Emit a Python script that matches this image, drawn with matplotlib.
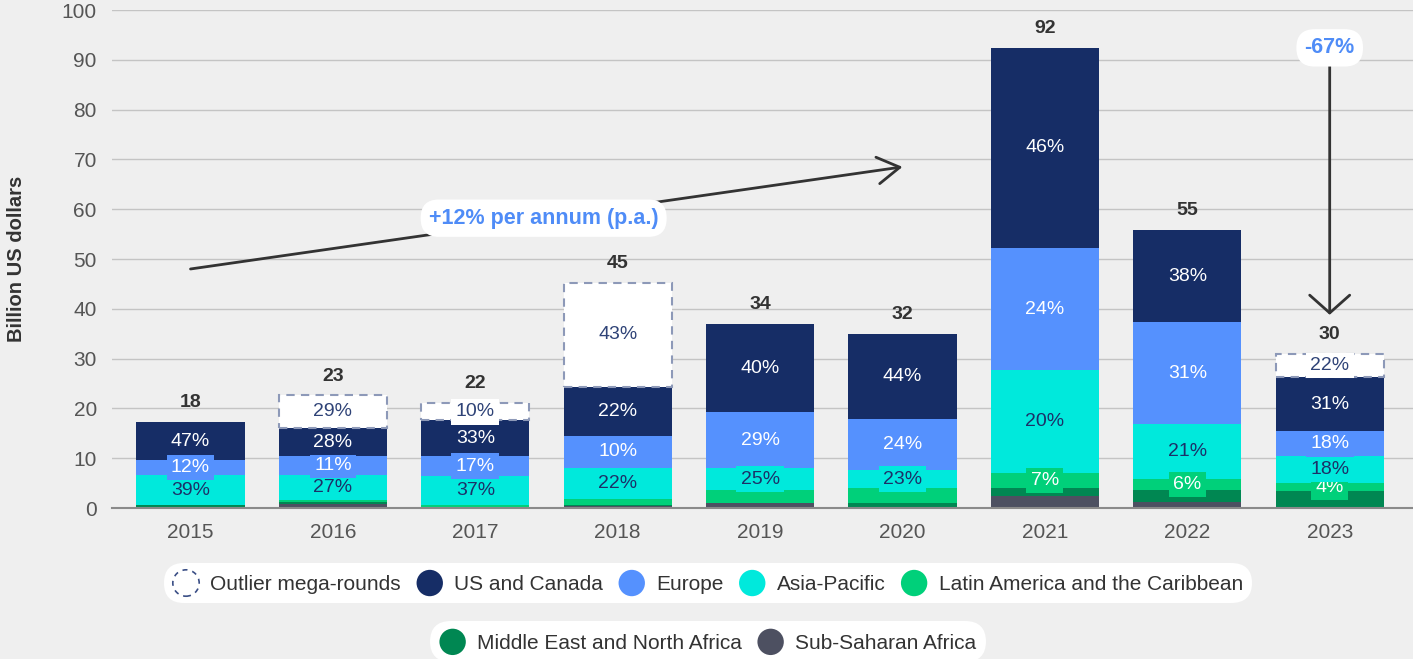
import matplotlib
matplotlib.use('Agg')
import matplotlib.pyplot as plt
import matplotlib.patches as mpatches
from matplotlib.legend_handler import HandlerPatch
import numpy as np

plt.rcParams['font.family'] = ['Liberation Sans', 'DejaVu Sans']

years = ['2015', '2016', '2017', '2018', '2019', '2020', '2021', '2022', '2023']
totals = [18, 23, 22, 45, 34, 32, 92, 55, 30]

# billion US dollars
sub_saharan = [0.0, 0.9, 0.0, 0.4, 1.0, 0.0, 2.5, 1.2, 0.2]
mena = [0.6, 0.4, 0.25, 0.3, 0.0, 1.0, 1.5, 2.4, 3.2]
latam = [0.0, 0.3, 0.35, 1.2, 2.6, 3.0, 3.0, 2.2, 1.6]
asia_pacific = [6.0, 5.0, 5.8, 6.2, 4.4, 3.6, 20.7, 11.0, 5.4]
europe = [3.0, 3.8, 4.0, 6.4, 11.2, 10.2, 24.5, 20.5, 5.0]
us_canada = [7.6, 5.6, 7.2, 9.9, 17.7, 17.1, 40.2, 18.5, 10.9]
outlier = [0.0, 6.6, 3.4, 20.8, 0.0, 0.0, 0.0, 0.0, 4.7]

# share labels shown inside the segments
pct_latam = [None, None, None, None, None, None, 7, 6, 4]
pct_asia = [39, 27, 37, 22, 25, 23, 20, 21, 18]
pct_europe = [12, 11, 17, 10, 29, 24, 24, 31, 18]
pct_us = [47, 28, 33, 22, 40, 44, 46, 38, 31]
pct_outlier = [None, 29, 10, 43, None, None, None, None, 22]

c_navy = '#162d66'
c_blue = '#5591fe'
c_cyan = '#00e9dc'
c_latam = '#00d07a'
c_mena = '#008752'
c_ssa = '#4d5061'
c_dash = '#8d99b8'
bg = '#efefef'

fig = plt.figure(figsize=(14.13, 6.59), dpi=100, facecolor=bg)
ax = fig.add_axes([0.0793, 0.2291, 0.9207, 0.7557])
ax.set_facecolor(bg)

x = np.arange(len(years))
w = 0.76
bottom = np.zeros(len(years))

layers = [
    (sub_saharan, c_ssa, None, None),
    (mena, c_mena, None, None),
    (latam, c_latam, pct_latam, 'white'),
    (asia_pacific, c_cyan, pct_asia, '#1c3068'),
    (europe, c_blue, pct_europe, 'white'),
    (us_canada, c_navy, pct_us, 'white'),
]
for vals, col, pcts, tcol in layers:
    vals = np.array(vals)
    ax.bar(x, vals, w, bottom=bottom, color=col, zorder=2)
    if pcts is not None:
        for i, p in enumerate(pcts):
            if p is None:
                continue
            ax.text(x[i], bottom[i] + vals[i] / 2, f'{p}%', ha='center', va='center',
                    fontsize=14, color=tcol, zorder=4,
                    bbox=dict(boxstyle='square,pad=0.22', fc=col, ec='none'))
    bottom += vals

# outlier mega-rounds: dashed white boxes
out = np.array(outlier)
for i in range(len(years)):
    if out[i] <= 0:
        continue
    ax.bar(x[i], out[i], w, bottom=bottom[i], color='white', edgecolor=c_dash,
           linewidth=1.5, linestyle=(0, (4, 3)), zorder=2)
    ax.text(x[i], bottom[i] + out[i] / 2, f'{pct_outlier[i]}%', ha='center', va='center',
            fontsize=14, color='#2f4377', zorder=4,
            bbox=dict(boxstyle='square,pad=0.22', fc='white', ec='none'))
bottom += out

for i in range(len(years)):
    ax.annotate(str(totals[i]), (x[i], bottom[i]), xytext=(0, 14), textcoords='offset points',
                ha='center', va='center', fontsize=14, fontweight='bold', color='#333333')

ax.set_xlim(-0.551, 8.585)
ax.set_ylim(0, 100)
ax.set_yticks(range(0, 101, 10))
ax.set_xticks(x)
ax.set_xticklabels(years)
ax.tick_params(length=0, labelsize=15, labelcolor='#555555')
ax.tick_params(axis='x', pad=11)
ax.tick_params(axis='y', pad=11)
ax.grid(axis='y', color='#c4c4c4', lw=1)
ax.set_axisbelow(True)
for s in ['top', 'right', 'left']:
    ax.spines[s].set_visible(False)
ax.spines['bottom'].set_color('#8a8a8a')
ax.spines['bottom'].set_linewidth(1.5)
ax.spines['bottom'].set_zorder(3)
ax.set_ylabel('Billion US dollars', fontsize=14.5, fontweight='bold', color='#333333')
ax.yaxis.set_label_coords(-0.066, 0.5)

# growth arrows
ax.annotate('', xy=(5.0, 68.5), xytext=(0.0, 48.0),
            arrowprops=dict(arrowstyle='->,head_length=1.0,head_width=0.6', color='#333333',
                            lw=2, mutation_scale=16, shrinkA=0, shrinkB=0), zorder=5)
ax.text(2.48, 58.2, '+12% per annum (p.a.)', ha='center', va='center', fontsize=15.5,
        fontweight='bold', color='#4f8cf7', zorder=6,
        bbox=dict(boxstyle='round,pad=0.38,rounding_size=0.85', fc='white', ec='none'))
ax.annotate('', xy=(8, 38.8), xytext=(8, 92.4),
            arrowprops=dict(arrowstyle='->,head_length=0.8,head_width=0.9', color='#333333',
                            lw=2, mutation_scale=16, shrinkA=0, shrinkB=0), zorder=5)
ax.text(8, 92.4, '-67%', ha='center', va='center', fontsize=15.5, fontweight='bold',
        color='#4f8cf7', zorder=6, clip_on=False,
        bbox=dict(boxstyle='round,pad=0.38,rounding_size=0.85', fc='white', ec='none'))


class HandlerCircle(HandlerPatch):
    def create_artists(self, legend, orig_handle, xdescent, ydescent, width, height, fontsize, trans):
        c = mpatches.Circle((width / 2 - xdescent, height / 2 - ydescent), radius=9.5)
        self.update_prop(c, orig_handle, legend)
        c.set_transform(trans)
        return [c]


row1 = [
    (mpatches.Patch(fc='white', ec='#3b4f86', lw=1.2, linestyle=(0, (3, 3))), 'Outlier mega-rounds'),
    (mpatches.Patch(fc=c_navy, ec='none'), 'US and Canada'),
    (mpatches.Patch(fc=c_blue, ec='none'), 'Europe'),
    (mpatches.Patch(fc=c_cyan, ec='none'), 'Asia-Pacific'),
    (mpatches.Patch(fc=c_latam, ec='none'), 'Latin America and the Caribbean'),
]
row2 = [
    (mpatches.Patch(fc=c_mena, ec='none'), 'Middle East and North Africa'),
    (mpatches.Patch(fc=c_ssa, ec='none'), 'Sub-Saharan Africa'),
]
for items, ypos in [(row1, 0.1153), (row2, 0.026)]:
    leg = fig.legend([h for h, _ in items], [t for _, t in items], loc='center',
                     bbox_to_anchor=(0.501, ypos), ncol=len(items), fontsize=15,
                     frameon=True, facecolor='white', edgecolor='none', framealpha=1,
                     handlelength=1.25, handleheight=1.25, handletextpad=0.55,
                     columnspacing=0.75, borderpad=0.45, labelcolor='#333333',
                     handler_map={mpatches.Patch: HandlerCircle()})
    leg.get_frame().set_boxstyle('round,pad=0,rounding_size=1.0')

fig.savefig('out.png', dpi=100, facecolor=bg)
